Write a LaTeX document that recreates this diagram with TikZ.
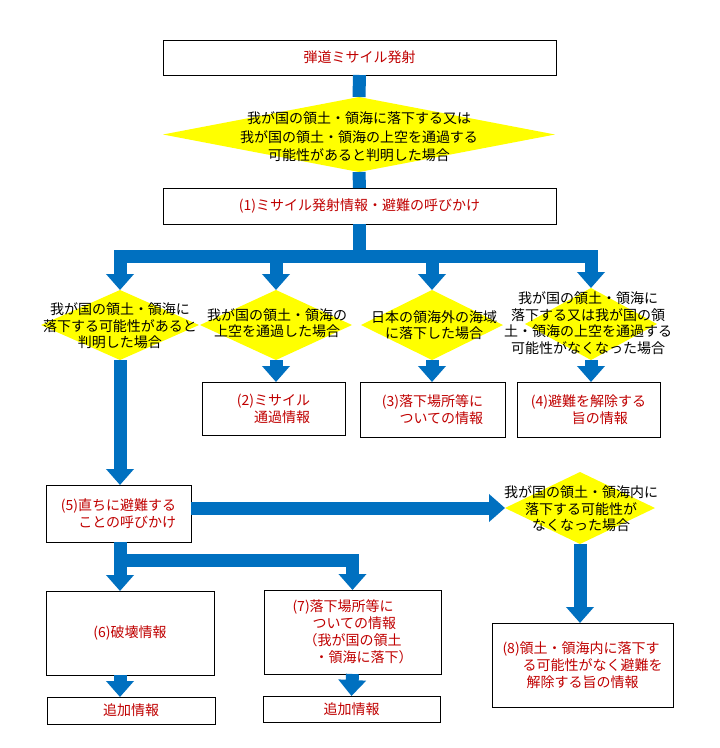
\documentclass[tikz,border=0pt]{standalone}
\usepackage{fontspec}
\setmainfont{Noto Sans CJK JP}
\usetikzlibrary{arrows.meta,positioning,shapes.geometric}
\definecolor{flowblue}{HTML}{0070C0}
\definecolor{askyellow}{HTML}{FFFF00}
\definecolor{infored}{HTML}{C00000}

\begin{document}
\begin{tikzpicture}[x=1pt,y=-1pt,
  infobox/.style={draw=black,line width=0.9pt,fill=white,inner sep=0pt,
    outer sep=0pt,text=infored,font=\fontsize{14}{17}\selectfont},
  askdia/.style={diamond,fill=askyellow,inner sep=0pt,outer sep=0pt},
  asktext/.style={align=center,font=\fontsize{14}{16.5}\selectfont},
  flowline/.style={draw=flowblue,line width=13pt},
  flow/.style={flowline,-{Triangle[width=27pt,length=16pt]}}]

  % ---- Page ---------------------------------------------------
  \useasboundingbox (0,0) rectangle (720,748);
  \fill[white] (0,0) rectangle (720,748);

  % ---- Launch, first check and first message ------------------
  \node[infobox,minimum width=393pt,minimum height=35pt] (launch)
    at (359.5,57.5) {弾道ミサイル発射};
  \node[askdia,minimum width=392pt,minimum height=75pt] (ask0)
    at (359,134.5) {};
  \node[asktext,font=\fontsize{14}{18.5}\selectfont] at (359,137)
    {我が国の領土・領海に落下する又は\\
     我が国の領土・領海の上空を通過する\\
     可能性があると判明した場合};
  \node[infobox,minimum width=393pt,minimum height=36pt] (info1)
    at (359.5,206) {(1)ミサイル発射情報・避難の呼びかけ};

  \draw[flowline] (launch.south) -- (ask0.north);
  \draw[flowline] (ask0.south) -- (info1.north);

  % ---- Four cases ---------------------------------------------
  \node[askdia,minimum width=158pt,minimum height=70pt] (askL) at (120,325) {};
  \node[asktext] at (120,326)
    {我が国の領土・領海に\\落下する可能性があると\\判明した場合};
  \node[askdia,minimum width=152pt,minimum height=70pt] (askM1) at (276,325) {};
  \node[asktext] at (277,323) {我が国の領土・領海の\\上空を通過した場合};
  \node[askdia,minimum width=142pt,minimum height=70pt] (askM2) at (432,325) {};
  \node[asktext] at (434,325) {日本の領海外の海域\\に落下した場合};
  \node[askdia,minimum width=132pt,minimum height=72pt] (askR) at (591,324) {};
  \node[asktext] at (588,323)
    {我が国の領土・領海に\\落下する又は我が国の領\\土・領海の上空を通過する\\可能性がなくなった場合};

  \coordinate (fork1) at (359,256);
  \draw[flowline] (fork1 |- info1.south) -- (fork1);
  \draw[flow] (fork1) -| (askL.north);
  \draw[flow] (fork1) -| (askR.north);
  \draw[flow] (fork1 -| askM1.north) -- (askM1.north);
  \draw[flow] (fork1 -| askM2.north) -- (askM2.north);

  % ---- Messages (2)-(4) ---------------------------------------
  \node[infobox,align=right,minimum width=143pt,minimum height=53pt] (info2)
    at (273.5,408.5) {(2)ミサイル\\通過情報};
  \node[infobox,align=right,minimum width=145pt,minimum height=55pt] (info3)
    at (432.5,409.5) {(3)落下場所等に\\ついての情報};
  \node[infobox,align=left,minimum width=143pt,minimum height=55pt] (info4)
    at (588.5,409.5) {(4)避難を解除する\\\hspace*{41pt}旨の情報};

  \draw[flow] (askM1.south) -- (askM1.south |- info2.north);
  \draw[flow] (askM2.south) -- (askM2.south |- info3.north);
  \draw[flow] (askR.south) -- (askR.south |- info4.north);

  % ---- Evacuation call and later check ------------------------
  \node[infobox,align=right,minimum width=145pt,minimum height=57pt] (info5)
    at (118.5,513.5) {(5)直ちに避難する\\ことの呼びかけ};
  \draw[flow] (askL.south) -- (askL.south |- info5.north);

  \node[askdia,minimum width=150pt,minimum height=72pt] (ask6) at (580,508) {};
  \node[asktext] at (581,509)
    {我が国の領土・領海内に\\落下する可能性が\\なくなった場合};
  \draw[flow] (info5.east |- ask6.west) -- (ask6.west);

  \node[infobox,align=left,minimum width=181pt,minimum height=84pt] (info8)
    at (582.5,665)
    {(8)領土・領海内に落下す\\\hspace*{20pt}る可能性がなく避難を\\
     \hspace*{24pt}解除する旨の情報};
  \draw[flow] (ask6.south) -- (ask6.south |- info8.north);

  % ---- Messages (6), (7) and follow-ups -----------------------
  \node[infobox,minimum width=168pt,minimum height=84pt] (info6)
    at (130,633) {(6)破壊情報};
  \node[infobox,align=left,minimum width=177pt,minimum height=84pt] (info7)
    at (352.5,632)
    {(7)落下場所等に\\\hspace*{20pt}ついての情報\\
     \hspace*{11pt}（我が国の領土\\\hspace*{22pt}・領海に落下）};

  \coordinate (fork5) at (120,560);
  \draw[flow] (fork5 |- info5.south) -- (fork5 |- info6.north);
  \draw[flow] (fork5) -| (info7.north);

  \node[infobox,minimum width=168pt,minimum height=27pt] (more6)
    at (131,710.5) {追加情報};
  \node[infobox,minimum width=177pt,minimum height=26pt] (more7)
    at (351.5,709) {追加情報};

  \draw[flow] (fork5 |- info6.south) -- (fork5 |- more6.north);
  \draw[flow] (info7.south) -- (more7.north);

\end{tikzpicture}
\end{document}
